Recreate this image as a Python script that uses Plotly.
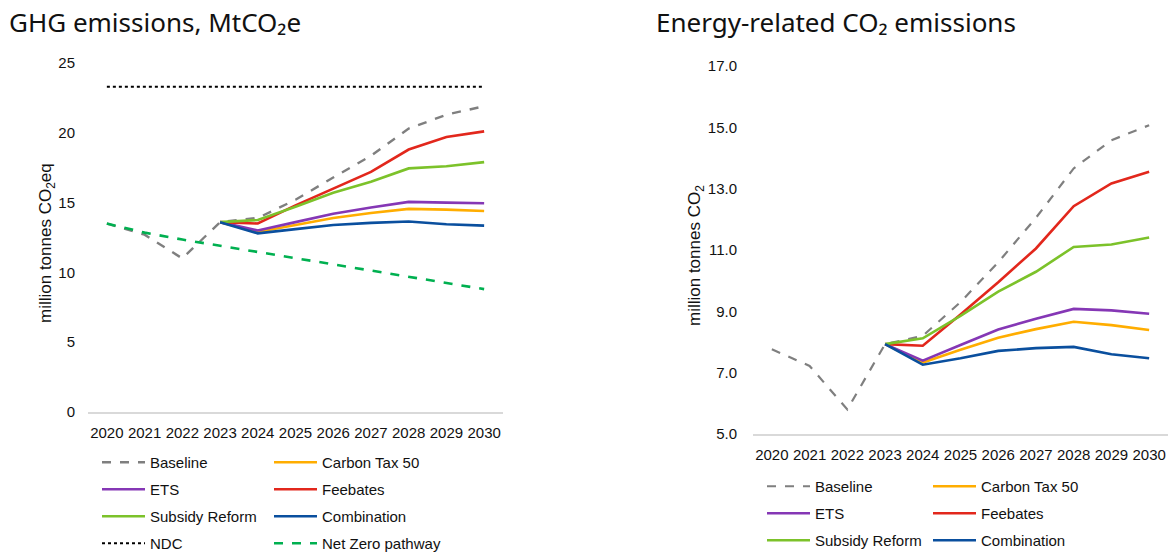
import plotly.graph_objects as go

years = [2020, 2021, 2022, 2023, 2024, 2025, 2026, 2027, 2028, 2029, 2030]
policy_years = [2023, 2024, 2025, 2026, 2027, 2028, 2029, 2030]

# GHG emissions, MtCO2e
ghg_baseline = [13.5, 12.7, 11.0, 13.6, 13.9, 15.2, 16.8, 18.35, 20.3, 21.3, 21.9]
ghg_carbon_tax = [13.6, 12.9, 13.4, 13.9, 14.25, 14.55, 14.5, 14.4]
ghg_ets = [13.6, 13.0, 13.6, 14.2, 14.65, 15.05, 15.0, 14.95]
ghg_feebates = [13.6, 13.5, 14.8, 16.0, 17.2, 18.8, 19.7, 20.1]
ghg_subsidy = [13.6, 13.75, 14.7, 15.7, 16.5, 17.45, 17.6, 17.9]
ghg_combination = [13.6, 12.8, 13.1, 13.4, 13.55, 13.65, 13.45, 13.35]
ghg_ndc = [23.3, 23.3, 23.3, 23.3, 23.3, 23.3, 23.3, 23.3, 23.3, 23.3, 23.3]
ghg_net_zero = [13.5, 12.85, 12.35, 11.9, 11.5, 11.0, 10.55, 10.1, 9.65, 9.2, 8.8]

# Energy-related CO2 emissions
co2_baseline = [7.76, 7.22, 5.8, 7.93, 8.2, 9.3, 10.6, 12.05, 13.66, 14.58, 15.07]
co2_carbon_tax = [7.93, 7.33, 7.75, 8.14, 8.42, 8.66, 8.55, 8.39]
co2_ets = [7.93, 7.39, 7.9, 8.41, 8.76, 9.08, 9.03, 8.92]
co2_feebates = [7.93, 7.88, 8.9, 9.95, 11.05, 12.43, 13.17, 13.55]
co2_subsidy = [7.93, 8.12, 8.85, 9.64, 10.29, 11.1, 11.18, 11.41]
co2_combination = [7.93, 7.26, 7.47, 7.71, 7.8, 7.84, 7.6, 7.47]

GRAY = "#7f7f7f"
ORANGE = "#FFAD00"
PURPLE = "#8537B5"
RED = "#E2271C"
LGREEN = "#7CC22A"
BLUE = "#0A4F9E"
NZGREEN = "#00B050"

W = 1170
H = 554
TXT = "#111111"
AX = "Liberation Sans, Arial, sans-serif"
TF = "Noto Sans, Open Sans, sans-serif"

fig = go.Figure()

def add(x, y, name, color, dash, xa, ya, leg, width=2.6):
    fig.add_trace(go.Scatter(
        x=x, y=y, name=name, mode="lines",
        line=dict(color=color, width=width, dash=dash),
        xaxis=xa, yaxis=ya, legend=leg, legendgroup=name + leg,
        hoverinfo="x+y+name",
    ))

# left chart
add(years, ghg_baseline, "Baseline", GRAY, "dash", "x", "y", "legend", 2.4)
add(policy_years, ghg_carbon_tax, "Carbon Tax 50", ORANGE, "solid", "x", "y", "legend2")
add(policy_years, ghg_ets, "ETS", PURPLE, "solid", "x", "y", "legend")
add(policy_years, ghg_feebates, "Feebates", RED, "solid", "x", "y", "legend2")
add(policy_years, ghg_subsidy, "Subsidy Reform", LGREEN, "solid", "x", "y", "legend")
add(policy_years, ghg_combination, "Combination", BLUE, "solid", "x", "y", "legend2")
add(years, ghg_ndc, "NDC", "#000000", "dot", "x", "y", "legend", 2)
add(years, ghg_net_zero, "Net Zero pathway", NZGREEN, "dash", "x", "y", "legend2")

# right chart
add(years, co2_baseline, "Baseline", GRAY, "dash", "x2", "y2", "legend3", 2.2)
add(policy_years, co2_carbon_tax, "Carbon Tax 50", ORANGE, "solid", "x2", "y2", "legend4")
add(policy_years, co2_ets, "ETS", PURPLE, "solid", "x2", "y2", "legend3")
add(policy_years, co2_feebates, "Feebates", RED, "solid", "x2", "y2", "legend4")
add(policy_years, co2_subsidy, "Subsidy Reform", LGREEN, "solid", "x2", "y2", "legend3")
add(policy_years, co2_combination, "Combination", BLUE, "solid", "x2", "y2", "legend4")

def px_x(p):
    return p / W

def px_y(p):
    return 1 - p / H

xcommon = dict(
    range=[2019.5, 2030.5], tickmode="array", tickvals=years,
    showgrid=False, zeroline=False, showline=True, linecolor="#d9d9d9", linewidth=1.5,
    ticks="", tickfont=dict(family=AX, size=15, color=TXT), ticklabelstandoff=6,
    fixedrange=True,
)
ycommon = dict(
    showgrid=False, zeroline=False, showline=False, ticks="",
    tickfont=dict(family=AX, size=15, color=TXT), fixedrange=True,
)

legcommon = dict(
    orientation="v", xanchor="left", yanchor="top",
    font=dict(family=AX, size=15, color=TXT), bgcolor="rgba(0,0,0,0)",
    tracegroupgap=4.5, itemwidth=43, traceorder="grouped",
    itemclick=False, itemdoubleclick=False,
)

fig.update_layout(
    width=W, height=H,
    margin=dict(l=0, r=0, t=0, b=0, pad=0, autoexpand=False),
    paper_bgcolor="white", plot_bgcolor="white",
    showlegend=True,
    xaxis=dict(domain=[px_x(88), px_x(503)], anchor="y", **xcommon),
    yaxis=dict(domain=[px_y(412), px_y(63)], anchor="x", range=[0, 25],
               tickvals=[0, 5, 10, 15, 20, 25], ticklabelstandoff=12, **ycommon),
    xaxis2=dict(domain=[px_x(753), px_x(1168)], anchor="y2", **xcommon),
    yaxis2=dict(domain=[px_y(434), px_y(66)], anchor="x2", range=[5, 17],
                tickvals=[5, 7, 9, 11, 13, 15, 17], tickformat=".1f",
                ticklabelstandoff=15, **ycommon),
    legend=dict(x=px_x(97), y=px_y(446), **legcommon),
    legend2=dict(x=px_x(269), y=px_y(446), **legcommon),
    legend3=dict(x=px_x(762), y=px_y(470), **legcommon),
    legend4=dict(x=px_x(928), y=px_y(470), **legcommon),
    annotations=[
        dict(text="GHG emissions, MtCO₂e", x=px_x(7), y=px_y(22),
             xref="paper", yref="paper", xanchor="left", yanchor="middle",
             showarrow=False, font=dict(family=TF, size=26, color=TXT)),
        dict(text="Energy-related CO₂ emissions", x=px_x(654), y=px_y(22),
             xref="paper", yref="paper", xanchor="left", yanchor="middle",
             showarrow=False, font=dict(family=TF, size=26, color=TXT)),
        dict(text="million tonnes CO<sub>2</sub>eq", x=px_x(47), y=px_y(243),
             xref="paper", yref="paper", xanchor="center", yanchor="middle",
             textangle=-90, showarrow=False, font=dict(family=AX, size=17, color=TXT)),
        dict(text="million tonnes CO<sub>2</sub>", x=px_x(696), y=px_y(256),
             xref="paper", yref="paper", xanchor="center", yanchor="middle",
             textangle=-90, showarrow=False, font=dict(family=AX, size=17, color=TXT)),
    ],
)

fig.write_html("out.html")
